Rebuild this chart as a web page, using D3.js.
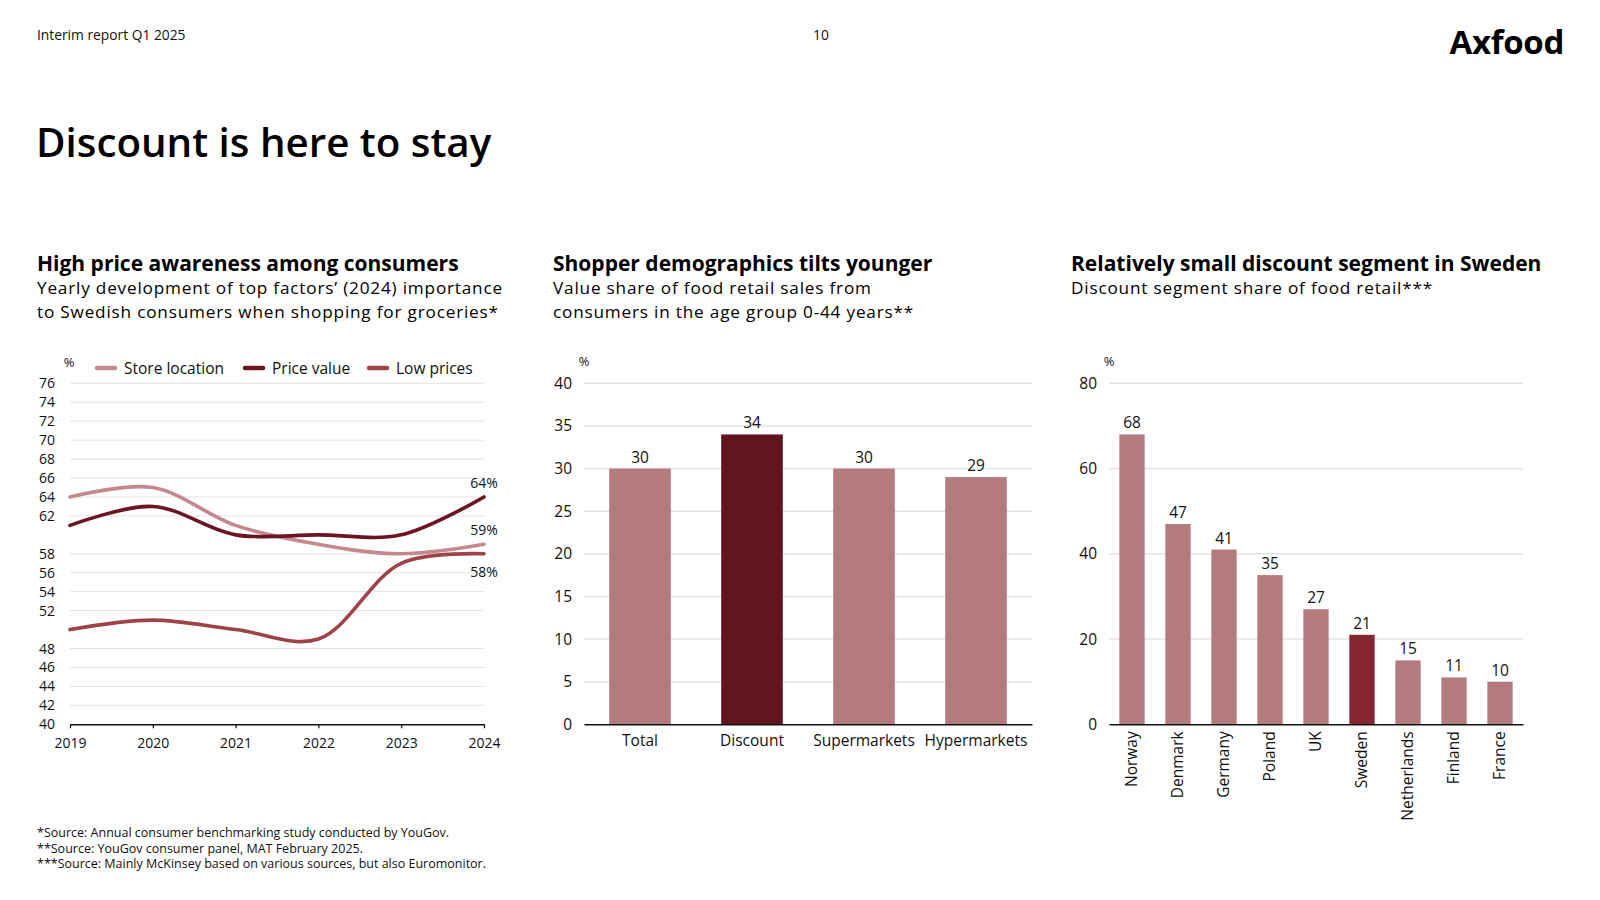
<!DOCTYPE html>
<html>
<head>
<meta charset="utf-8">
<script src="https://cdn.jsdelivr.net/npm/d3@7"></script>
<style>
  html, body { margin: 0; padding: 0; background: #fff; }
  svg { display: block; font-family: "Open Sans", Lato, sans-serif; }
</style>
</head>
<body>
<svg id="chart" width="1600" height="900"></svg>
<script>
// ---------- DATA ----------
const years = [2019, 2020, 2021, 2022, 2023, 2024];
const storeLocation = [64, 65, 61, 59, 58, 59];
const priceValue = [61, 63, 60, 60, 60, 64];
const lowPrices = [50, 51, 50, 49, 57, 58];
const lineSeriesNames = ["Store location", "Price value", "Low prices"];
const lineYTicks = [40, 42, 44, 46, 48, 52, 54, 56, 58, 62, 64, 66, 68, 70, 72, 74, 76];

const formatCategories = ["Total", "Discount", "Supermarkets", "Hypermarkets"];
const formatValues = [30, 34, 30, 29];
const formatYTicks = [0, 5, 10, 15, 20, 25, 30, 35, 40];

const countries = ["Norway", "Denmark", "Germany", "Poland", "UK", "Sweden", "Netherlands", "Finland", "France"];
const countryValues = [68, 47, 41, 35, 27, 21, 15, 11, 10];
const countryYTicks = [0, 20, 40, 60, 80];

const footnotes = [
  "*Source: Annual consumer benchmarking study conducted by YouGov.",
  "**Source: YouGov consumer panel, MAT February 2025.",
  "***Source: Mainly McKinsey based on various sources, but also Euromonitor."
];

// ---------- STYLE ----------
const FONT = "'Open Sans', Lato, sans-serif";
const C = {
  text: "#111",
  grid: "#e3e3e3",
  store: "#c4898d",
  price: "#6b1522",
  low: "#9e4448",
  bar: "#b47b7f",
  barDark: "#63151f",
  sweden: "#84262f"
};
const svg = d3.select("#chart");

// ---------- HEADER ----------
svg.append("text").attr("x", 37).attr("y", 40).attr("font-size", 13.8).attr("fill", C.text).text("Interim report Q1 2025");
svg.append("text").attr("x", 821).attr("y", 40).attr("text-anchor", "middle").attr("font-size", 13.8).attr("fill", C.text).text("10");
svg.append("text").attr("x", 1564).attr("y", 54).attr("text-anchor", "end").attr("font-size", 33).attr("font-weight", 700)
  .attr("letter-spacing", -0.3).attr("fill", "#000").text("Axfood");
svg.append("text").attr("x", 36).attr("y", 157).attr("font-size", 40.3).attr("font-weight", 600).attr("fill", "#000")
  .text("Discount is here to stay");

function panelTitle(x, title, lines) {
  svg.append("text").attr("x", x).attr("y", 271).attr("font-size", 21).attr("font-weight", 700).attr("fill", "#000").text(title);
  lines.forEach((l, i) => {
    svg.append("text").attr("x", x).attr("y", 294 + i * 23.6).attr("font-size", 17.2)
      .attr("letter-spacing", 0.8).attr("fill", "#000").text(l);
  });
}
panelTitle(37, "High price awareness among consumers",
  ["Yearly development of top factors\u2019 (2024) importance", "to Swedish consumers when shopping for groceries*"]);
panelTitle(553, "Shopper demographics tilts younger",
  ["Value share of food retail sales from", "consumers in the age group 0-44 years**"]);
panelTitle(1071, "Relatively small discount segment in Sweden",
  ["Discount segment share of food retail***"]);

// ---------- LEFT: LINE CHART ----------
(function () {
  const x = d3.scaleLinear().domain([2019, 2024]).range([70, 484]);
  const y = d3.scaleLinear().domain([40, 76]).range([724.3, 383.3]);
  const g = svg.append("g");

  g.selectAll("line.grid").data(lineYTicks.filter(d => d !== 40)).join("line")
    .attr("x1", x(2019)).attr("x2", x(2024)).attr("y1", d => y(d)).attr("y2", d => y(d))
    .attr("stroke", C.grid).attr("stroke-width", 1);

  const ya = g.append("g").attr("transform", `translate(${x(2019)},0)`)
    .call(d3.axisLeft(y).tickValues(lineYTicks).tickSize(0).tickPadding(15));
  ya.select(".domain").remove();
  ya.selectAll("text").attr("font-size", 14).attr("fill", C.text).attr("font-family", FONT);

  const xa = g.append("g").attr("transform", `translate(0,${y(40)})`)
    .call(d3.axisBottom(x).tickValues(years).tickFormat(d3.format("d")).tickSizeInner(4).tickSizeOuter(0).tickPadding(10));
  xa.select(".domain").attr("stroke", "#111").attr("stroke-width", 1.5);
  xa.selectAll(".tick line").attr("stroke", "#111").attr("stroke-width", 1.2);
  xa.selectAll("text").attr("font-size", 14).attr("fill", C.text).attr("font-family", FONT);

  const series = [
    { name: lineSeriesNames[0], vals: storeLocation, color: C.store },
    { name: lineSeriesNames[1], vals: priceValue, color: C.price },
    { name: lineSeriesNames[2], vals: lowPrices, color: C.low }
  ];
  const line = d3.line().x((d, i) => x(years[i])).y(d => y(d)).curve(d3.curveCatmullRom.alpha(0.5));
  series.forEach(s => {
    g.append("path").attr("d", line(s.vals)).attr("fill", "none").attr("stroke", s.color)
      .attr("stroke-width", 3.6).attr("stroke-linecap", "round");
  });
  // end labels
  const last = years.length - 1;
  const endLabels = [
    { v: priceValue[last], dy: -9 },
    { v: storeLocation[last], dy: -9 },
    { v: lowPrices[last], dy: 23 }
  ];
  endLabels.forEach(l => {
    g.append("text").attr("x", x(2024)).attr("y", y(l.v) + l.dy).attr("text-anchor", "middle")
      .attr("font-size", 14).attr("fill", C.text).text(l.v + "%");
  });

  // % unit and legend
  g.append("text").attr("x", 69).attr("y", 367).attr("text-anchor", "middle").attr("font-size", 13).attr("fill", C.text).text("%");
  const legendX = [95, 243, 367];
  series.forEach((s, i) => {
    g.append("line").attr("x1", legendX[i] + 2).attr("x2", legendX[i] + 20).attr("y1", 368).attr("y2", 368)
      .attr("stroke", s.color).attr("stroke-width", 4.5).attr("stroke-linecap", "round");
    g.append("text").attr("x", legendX[i] + 29).attr("y", 373.5).attr("font-size", 15.5).attr("fill", C.text).text(s.name);
  });
})();

// ---------- BAR CHART HELPER ----------
function barChart(opts) {
  const { cats, vals, yMax, ticks, x0, x1, colorFn, labelEnd, unitX, rotate } = opts;
  const x = d3.scaleBand().domain(cats).range([x0, x1]).paddingInner(0.45).paddingOuter(0.225);
  const y = d3.scaleLinear().domain([0, yMax]).range([724.3, 383.3]);
  const g = svg.append("g");

  g.selectAll("line.grid").data(ticks.filter(d => d !== 0)).join("line")
    .attr("x1", x0).attr("x2", x1).attr("y1", d => y(d)).attr("y2", d => y(d))
    .attr("stroke", C.grid).attr("stroke-width", 1.5);

  const ya = g.append("g").attr("transform", `translate(${x0},0)`)
    .call(d3.axisLeft(y).tickValues(ticks).tickSize(0).tickPadding(x0 - labelEnd));
  ya.select(".domain").remove();
  ya.selectAll("text").attr("font-size", 15.5).attr("fill", C.text).attr("font-family", FONT);

  g.selectAll("rect.bar").data(cats).join("rect")
    .attr("x", d => x(d)).attr("width", x.bandwidth())
    .attr("y", (d, i) => y(vals[i])).attr("height", (d, i) => y(0) - y(vals[i]))
    .attr("fill", (d, i) => colorFn(d, i));

  g.selectAll("text.val").data(cats).join("text")
    .attr("x", d => x(d) + x.bandwidth() / 2).attr("y", (d, i) => y(vals[i]) - 6)
    .attr("text-anchor", "middle").attr("font-size", 15.5).attr("fill", C.text)
    .text((d, i) => vals[i]);

  const xa = g.append("g").attr("transform", `translate(0,${y(0)})`)
    .call(d3.axisBottom(x).tickSize(0).tickPadding(rotate ? 7 : 11));
  xa.select(".domain").attr("stroke", "#111").attr("stroke-width", 1.5);
  xa.selectAll("text").attr("font-size", 15.5).attr("fill", C.text).attr("font-family", FONT);
  if (rotate) {
    xa.selectAll("text").attr("transform", "rotate(-90)").attr("text-anchor", "end")
      .attr("x", -7).attr("y", 0).attr("dy", "0.35em");
  }
  g.append("text").attr("x", unitX).attr("y", 366).attr("text-anchor", "middle").attr("font-size", 13).attr("fill", C.text).text("%");
}

// ---------- MIDDLE ----------
barChart({
  cats: formatCategories, vals: formatValues, yMax: 40, ticks: formatYTicks,
  x0: 584, x1: 1032, labelEnd: 572, unitX: 584,
  colorFn: d => d === "Discount" ? C.barDark : C.bar
});

// ---------- RIGHT ----------
barChart({
  cats: countries, vals: countryValues, yMax: 80, ticks: countryYTicks,
  x0: 1109, x1: 1523, labelEnd: 1097, unitX: 1109, rotate: true,
  colorFn: d => d === "Sweden" ? C.sweden : C.bar
});

// ---------- FOOTNOTES ----------
footnotes.forEach((t, i) => {
  svg.append("text").attr("x", 37).attr("y", 837 + i * 15.5).attr("font-size", 12.5).attr("fill", C.text).text(t);
});
</script>
</body>
</html>
